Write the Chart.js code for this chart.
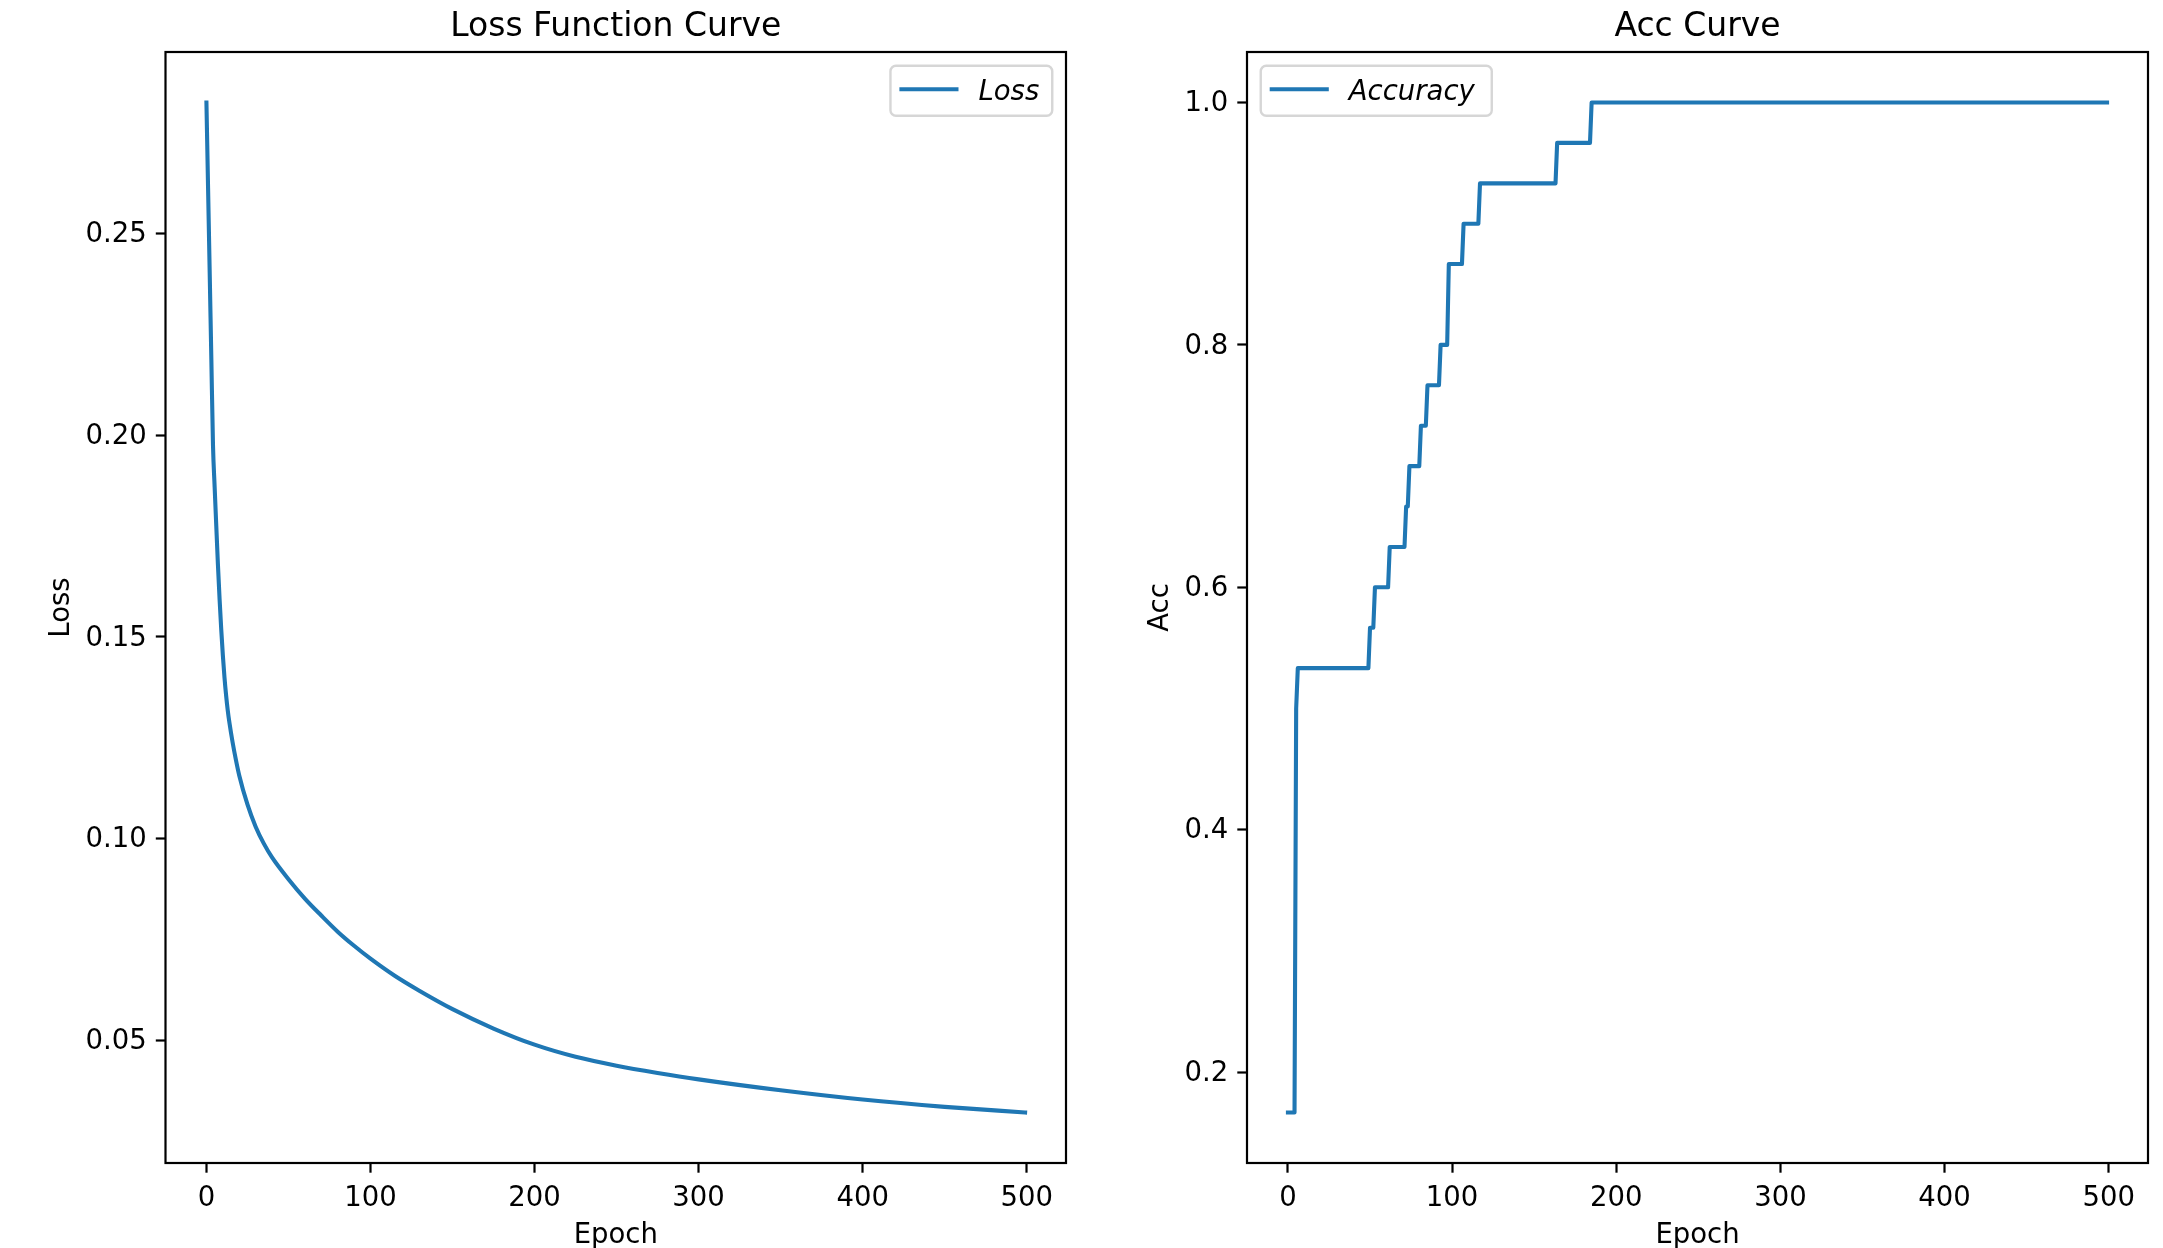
<!DOCTYPE html>
<html>
<head>
<meta charset="utf-8">
<script src="https://cdn.jsdelivr.net/npm/chart.js@4.4.1/dist/chart.umd.min.js"></script>
<style>
html, body { margin: 0; padding: 0; background: #ffffff; overflow: hidden; width: 2163px; height: 1248px; }
#c1 { position: absolute; left: 0; top: 0; }
#c2 { position: absolute; left: 1081px; top: 0; }
</style>
</head>
<body>
<canvas id="c1" width="1081" height="1248"></canvas>
<canvas id="c2" width="1082" height="1248"></canvas>
<script>
// ---------------- data ----------------
const lossEpochs = [0, 1, 2, 3, 4, 5, 6, 7, 8, 9, 10, 11, 12, 13, 14, 16, 18, 20, 25, 30, 35, 40, 50, 60, 70, 80, 90, 100, 115, 130, 150, 175, 200, 225, 250, 275, 300, 350, 400, 450, 499];
const lossValues = [0.2824, 0.2612, 0.2400, 0.2187, 0.1975, 0.1872, 0.1775, 0.1680, 0.1595, 0.1520, 0.1455, 0.1400, 0.1355, 0.1318, 0.1288, 0.1238, 0.1195, 0.1157, 0.1085, 0.1030, 0.0988, 0.0954, 0.0900, 0.0852, 0.0810, 0.0770, 0.0735, 0.0703, 0.0660, 0.0623, 0.0578, 0.0530, 0.0490, 0.0460, 0.0438, 0.0420, 0.0404, 0.0377, 0.0354, 0.0336, 0.0322];

// corners of the accuracy step curve (epoch, accuracy)
const accEpochs = [0, 4, 5, 6, 49, 50, 52, 53, 61, 62, 71, 72, 73, 74, 80, 81, 84, 85, 92, 93, 97, 98, 106, 107, 116, 117, 163, 164, 184, 185, 499];
const accValues = [0.1667, 0.1667, 0.5000, 0.5333, 0.5333, 0.5667, 0.5667, 0.6000, 0.6000, 0.6333, 0.6333, 0.6667, 0.6667, 0.7000, 0.7000, 0.7333, 0.7333, 0.7667, 0.7667, 0.8000, 0.8000, 0.8667, 0.8667, 0.9000, 0.9000, 0.9333, 0.9333, 0.9667, 0.9667, 1.0000, 1.0000];

const epochTicks = [0, 100, 200, 300, 400, 500];
const lossTicks = [0.05, 0.10, 0.15, 0.20, 0.25];
const accTicks = [0.2, 0.4, 0.6, 0.8, 1.0];

const lossTitle = 'Loss Function Curve';
const accTitle = 'Acc Curve';
const lossLabel = 'Loss';
const accLabel = 'Accuracy';
const xLabel = 'Epoch';
const lossYLabel = 'Loss';
const accYLabel = 'Acc';

// ---------------- styling ----------------
const FONT = '"DejaVu Sans", sans-serif';
const FS = 27.5;
const LINE_COLOR = '#1f77b4';

function padRange(vals) {
  const mn = Math.min(...vals), mx = Math.max(...vals);
  const m = (mx - mn) * 0.05;
  return [mn - m, mx + m];
}

const framePlugin = {
  id: 'mplFrame',
  afterDatasetsDraw(chart) {
    const { ctx, chartArea: a } = chart;
    ctx.save();
    ctx.strokeStyle = '#000000';
    ctx.lineWidth = 2.2;
    ctx.strokeRect(a.left, a.top, a.right - a.left, a.bottom - a.top);
    ctx.restore();
  }
};

const legendPlugin = {
  id: 'mplLegend',
  afterDraw(chart, args, opts) {
    const ds = chart.data.datasets[0];
    const { ctx, chartArea: a } = chart;
    const pad = 0.5 * FS, bp = 0.4 * FS, hl = 2.0 * FS, htp = 0.8 * FS;
    ctx.save();
    ctx.font = 'italic ' + FS + 'px ' + FONT;
    const tw = ctx.measureText(ds.label).width;
    const w = bp + hl + htp + tw + bp + 2 + (opts.extra || 0);
    const h = 50;
    const x = opts.side === 'right' ? a.right - pad - w : a.left + pad;
    const y = a.top + pad;
    ctx.beginPath();
    ctx.roundRect(x, y, w, h, 5.5);
    ctx.fillStyle = 'rgba(255,255,255,0.8)';
    ctx.fill();
    ctx.lineWidth = 2.4;
    ctx.strokeStyle = 'rgba(204,204,204,0.8)';
    ctx.stroke();
    const cy = y + h / 2 - 1.5;
    ctx.beginPath();
    ctx.moveTo(x + bp, cy);
    ctx.lineTo(x + bp + hl, cy);
    ctx.lineWidth = 4.1;
    ctx.lineCap = 'square';
    ctx.strokeStyle = ds.borderColor;
    ctx.stroke();
    ctx.fillStyle = '#000000';
    ctx.textBaseline = 'middle';
    ctx.textAlign = 'left';
    ctx.fillText(ds.label, x + bp + hl + htp, cy + 3.5);
    ctx.restore();
  }
};

function makeChart(canvasId, cfg) {
  const font = { family: FONT, size: FS, weight: 'normal' };
  const xr = padRange(cfg.xs);
  const yr = padRange(cfg.ys);
  return new Chart(document.getElementById(canvasId), {
    type: 'line',
    data: {
      datasets: [{
        label: cfg.label,
        data: cfg.xs.map((e, i) => ({ x: e, y: cfg.ys[i] })),
        borderColor: LINE_COLOR,
        backgroundColor: LINE_COLOR,
        borderWidth: 4.1,
        borderCapStyle: 'square',
        borderJoinStyle: 'round',
        pointRadius: 0,
        pointHoverRadius: 0,
        fill: false,
        tension: 0,
        cubicInterpolationMode: cfg.smooth ? 'monotone' : 'default'
      }]
    },
    options: {
      responsive: false,
      animation: false,
      devicePixelRatio: 1,
      events: [],
      layout: { padding: { left: 0, right: cfg.padRight, top: 0, bottom: 0 } },
      plugins: {
        legend: { display: false },
        tooltip: { enabled: false },
        title: {
          display: true,
          text: cfg.title,
          color: '#000000',
          fullSize: false,
          font: { family: FONT, size: 33, weight: 'normal' },
          padding: { top: 7.3, bottom: 5.1 }
        },
        mplLegend: { side: cfg.legendSide, extra: cfg.legendExtra }
      },
      scales: {
        x: {
          type: 'linear',
          min: xr[0],
          max: xr[1],
          afterBuildTicks: s => { s.ticks = epochTicks.map(v => ({ value: v })); },
          afterFit: s => { s.height = 85; s.paddingLeft = 0; s.paddingRight = 0; },
          ticks: { font, color: '#000000', padding: 10, maxRotation: 0, autoSkip: false, callback: v => String(v) },
          grid: { display: true, drawOnChartArea: false, drawTicks: true, tickLength: 9.7, tickWidth: 2.2, tickColor: '#000000' },
          border: { display: false },
          title: { display: true, text: xLabel, color: '#000000', font, padding: { top: 0, bottom: -4 } }
        },
        y: {
          type: 'linear',
          min: yr[0],
          max: yr[1],
          afterBuildTicks: s => { s.ticks = cfg.yTicks.map(v => ({ value: v })); },
          afterFit: s => { s.width = cfg.yWidth; s.paddingTop = 0; s.paddingBottom = 0; },
          ticks: { font, color: '#000000', padding: 9, labelOffset: 1.5, autoSkip: false, callback: v => v.toFixed(cfg.decimals) },
          grid: { display: true, drawOnChartArea: false, drawTicks: true, tickLength: 9.7, tickWidth: 2.2, tickColor: '#000000' },
          border: { display: false },
          title: { display: true, text: cfg.yLabel, color: '#000000', font, padding: { top: cfg.yTitlePad, bottom: 0 } }
        }
      }
    },
    plugins: [framePlugin, legendPlugin]
  });
}

makeChart('c1', {
  xs: lossEpochs, ys: lossValues, label: lossLabel, title: lossTitle,
  yTicks: lossTicks, decimals: 2, yLabel: lossYLabel, yWidth: 165.5, yTitlePad: 45,
  padRight: 15, legendSide: 'right', legendExtra: 0, smooth: true
});

makeChart('c2', {
  xs: accEpochs, ys: accValues, label: accLabel, title: accTitle,
  yTicks: accTicks, decimals: 1, yLabel: accYLabel, yWidth: 166, yTitlePad: 63,
  padRight: 15, legendSide: 'left', legendExtra: 4, smooth: false
});
</script>
</body>
</html>
